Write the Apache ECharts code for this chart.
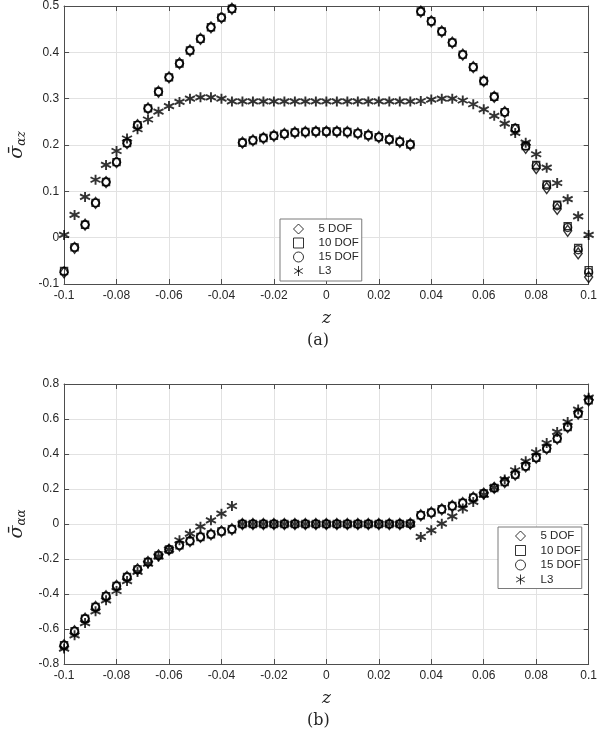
<!DOCTYPE html>
<html><head><meta charset="utf-8">
<script src="https://cdn.jsdelivr.net/npm/echarts@6/dist/echarts.min.js"></script>
<style>html,body{margin:0;padding:0;background:#fff}#c{width:600px;height:730px}</style>
</head><body><div id="c"></div>
<script>
// ---------- data ----------
const zValues = [-0.1,-0.096,-0.092,-0.088,-0.084,-0.08,-0.076,-0.072,-0.068,-0.064,-0.06,-0.056,-0.052,-0.048,-0.044,-0.04,-0.036,
  -0.032,-0.028,-0.024,-0.02,-0.016,-0.012,-0.008,-0.004,0,0.004,0.008,0.012,0.016,0.02,0.024,0.028,0.032,
  0.036,0.04,0.044,0.048,0.052,0.056,0.06,0.064,0.068,0.072,0.076,0.08,0.084,0.088,0.092,0.096,0.1];

const seriesNames = ['5 DOF','10 DOF','15 DOF','L3'];

// (a) sigma_alpha_z
const aDof5 = [-0.075,-0.022,0.028,0.075,0.120,0.163,0.204,0.243,0.279,0.315,0.346,0.376,0.404,0.429,0.454,0.475,0.494,
  0.205,0.210,0.215,0.220,0.224,0.227,0.228,0.229,0.229,0.229,0.228,0.225,0.221,0.217,0.212,0.207,0.201,
  0.488,0.467,0.445,0.421,0.395,0.368,0.338,0.304,0.271,0.234,0.194,0.150,0.107,0.062,0.015,-0.034,-0.085];
const aDof10 = [-0.072,-0.021,0.028,0.075,0.120,0.163,0.204,0.243,0.279,0.315,0.346,0.376,0.404,0.429,0.454,0.475,0.494,
  0.205,0.210,0.215,0.220,0.224,0.227,0.228,0.229,0.229,0.229,0.228,0.225,0.221,0.217,0.212,0.207,0.201,
  0.488,0.467,0.445,0.421,0.395,0.368,0.338,0.304,0.271,0.236,0.198,0.157,0.115,0.071,0.025,-0.022,-0.070];
const aDof15 = [-0.073,-0.021,0.028,0.075,0.120,0.163,0.204,0.243,0.279,0.315,0.346,0.376,0.404,0.429,0.454,0.475,0.494,
  0.205,0.210,0.215,0.220,0.224,0.227,0.228,0.229,0.229,0.229,0.228,0.225,0.221,0.217,0.212,0.207,0.201,
  0.488,0.467,0.445,0.421,0.395,0.368,0.338,0.304,0.271,0.236,0.198,0.155,0.113,0.069,0.022,-0.026,-0.075];
const aL3 = [0.006,0.049,0.088,0.125,0.157,0.187,0.214,0.234,0.255,0.272,0.284,0.293,0.300,0.303,0.303,0.300,0.294,
  0.294,0.294,0.294,0.294,0.294,0.294,0.294,0.294,0.294,0.294,0.294,0.294,0.294,0.294,0.294,0.294,0.294,
  0.295,0.298,0.300,0.300,0.296,0.288,0.277,0.263,0.246,0.226,0.205,0.180,0.151,0.118,0.083,0.046,0.006];

// (b) sigma_alpha_alpha
const bDof5 = [-0.693,-0.613,-0.541,-0.474,-0.413,-0.354,-0.303,-0.259,-0.217,-0.179,-0.146,-0.122,-0.097,-0.074,-0.059,-0.042,-0.030,
  0,0,0,0,0,0,0,0,0,0,0,0,0,0,0,0,0.002,
  0.050,0.065,0.084,0.103,0.120,0.151,0.174,0.206,0.240,0.282,0.330,0.379,0.431,0.488,0.554,0.631,0.707];
const bDof10 = [-0.693,-0.613,-0.541,-0.474,-0.413,-0.354,-0.303,-0.259,-0.217,-0.179,-0.146,-0.122,-0.097,-0.074,-0.059,-0.042,-0.030,
  0,0,0,0,0,0,0,0,0,0,0,0,0,0,0,0,0.002,
  0.050,0.065,0.084,0.103,0.120,0.151,0.174,0.206,0.240,0.282,0.330,0.379,0.431,0.488,0.554,0.631,0.707];
const bDof15 = [-0.693,-0.613,-0.541,-0.474,-0.413,-0.354,-0.303,-0.259,-0.217,-0.179,-0.146,-0.122,-0.097,-0.074,-0.059,-0.042,-0.030,
  0,0,0,0,0,0,0,0,0,0,0,0,0,0,0,0,0.002,
  0.050,0.065,0.084,0.103,0.120,0.151,0.174,0.206,0.240,0.282,0.330,0.379,0.431,0.488,0.554,0.631,0.707];
const bL3 = [-0.712,-0.636,-0.566,-0.499,-0.436,-0.383,-0.326,-0.274,-0.226,-0.185,-0.146,-0.093,-0.055,-0.015,0.021,0.059,0.103,
  0,0,0,0,0,0,0,0,0,0,0,0,0,0,0,0,0,
  -0.074,-0.036,0.002,0.044,0.088,0.126,0.168,0.208,0.255,0.307,0.358,0.410,0.463,0.526,0.583,0.654,0.722];

const xTicks = [-0.1,-0.08,-0.06,-0.04,-0.02,0,0.02,0.04,0.06,0.08,0.1];
const yTicksA = [-0.1,0,0.1,0.2,0.3,0.4,0.5];
const yTicksB = [-0.8,-0.6,-0.4,-0.2,0,0.2,0.4,0.6,0.8];

// ---------- chart ----------
const AX = '#4d4d4d', GRID = '#e2e2e2', TXT = '#262626';
const fmt = v => String(parseFloat(Number(v).toFixed(3)));
const ASTER = 'path://M0,-5L0,5M-4.33,-2.5L4.33,2.5M-4.33,2.5L4.33,-2.5';
const symbols = ['diamond','rect','circle',ASTER];
const sizes = [[8,11],7,8,10];
const widths = [1.4,1.4,1.4,1.9];

function mainX(gi){
  return {type:'value', gridIndex:gi, min:xTicks[0], max:xTicks[xTicks.length-1], interval:0.02, position:'bottom',
    axisLine:{onZero:false, lineStyle:{color:AX}}, axisTick:{inside:true,length:5,lineStyle:{color:AX}},
    axisLabel:{formatter:fmt, color:TXT, fontSize:12, fontFamily:'Liberation Sans, Arial', margin:6},
    splitLine:{show:true, lineStyle:{color:GRID}},
    name:'z', nameLocation:'middle', nameGap:26,
    nameTextStyle:{fontFamily:'DejaVu Serif, Liberation Serif', fontStyle:'italic', fontSize:17, color:TXT}};
}
function topX(gi){
  return {type:'value', gridIndex:gi, min:xTicks[0], max:xTicks[xTicks.length-1], interval:0.02, position:'top',
    axisLine:{onZero:false, lineStyle:{color:AX}}, axisTick:{inside:true,length:5,lineStyle:{color:AX}},
    axisLabel:{show:false}, splitLine:{show:false}};
}
function mainY(gi, ticks, interval, nameRich){
  return {type:'value', gridIndex:gi, min:ticks[0], max:ticks[ticks.length-1], interval:interval, position:'left',
    axisLine:{show:true, onZero:false, lineStyle:{color:AX}}, axisTick:{show:true, inside:true,length:5,lineStyle:{color:AX}},
    axisLabel:{formatter:fmt, color:TXT, fontSize:12, fontFamily:'Liberation Sans, Arial', margin:5},
    splitLine:{show:true, lineStyle:{color:GRID}},
    name:nameRich, nameLocation:'middle', nameGap:36,
    nameTextStyle:{color:TXT, rich:{
      s:{fontFamily:'DejaVu Serif, Liberation Serif', fontStyle:'italic', fontSize:19, color:TXT},
      b:{fontFamily:'DejaVu Serif, Liberation Serif', fontStyle:'italic', fontSize:12, color:TXT, padding:[8,0,0,0]}
    }}};
}
function rightY(gi, ticks, interval){
  return {type:'value', gridIndex:gi, min:ticks[0], max:ticks[ticks.length-1], interval:interval, position:'right',
    axisLine:{show:true, onZero:false, lineStyle:{color:AX}}, axisTick:{show:true, inside:true,length:5,lineStyle:{color:AX}},
    axisLabel:{show:false}, splitLine:{show:false}};
}

function mk(name, idx, xi, yi, vals){
  return {type:'scatter', name:name, xAxisIndex:xi, yAxisIndex:yi,
    symbol:symbols[idx], symbolSize:sizes[idx],
    itemStyle:{color:'rgba(0,0,0,0)', borderColor:'#000', borderWidth:widths[idx]},
    emphasis:{disabled:true}, animation:false,
    data: zValues.map((z,i)=>[z, vals[i]])};
}

const legendBase = {orient:'vertical', itemWidth:10, itemHeight:10,
  borderColor:'#7a7a7a', borderWidth:1, backgroundColor:'#fff',
  itemStyle:{borderWidth:1, color:'rgba(0,0,0,0)', borderColor:'#000'},
  textStyle:{fontSize:11.5, color:TXT, fontFamily:'Liberation Sans, Arial', padding:[0,0,0,10]},
  data:seriesNames, selectedMode:false};

const chart = echarts.init(document.getElementById('c'), null, {renderer:'canvas'});
chart.setOption({
  animation:false,
  grid:[{left:48, top:5, width:546, height:279},{left:48, top:384, width:546, height:280}],
  xAxis:[mainX(0), topX(0), mainX(1), topX(1)],
  yAxis:[mainY(0, yTicksA, 0.1, '{s|σ̄}{b|αz}'), rightY(0, yTicksA, 0.1),
         mainY(1, yTicksB, 0.2, '{s|σ̄}{b|αα}'), rightY(1, yTicksB, 0.2)],
  legend:[Object.assign({}, legendBase, {left:280, top:219, padding:[4,3,4,13], itemGap:2}),
          Object.assign({}, legendBase, {left:498, top:527, padding:[3,1,3,17], itemGap:2.5})],
  graphic:[
    {type:'text', left:307, top:333, style:{text:'(a)', font:'16px "DejaVu Serif", "Liberation Serif", serif', fill:TXT}},
    {type:'text', left:307, top:713, style:{text:'(b)', font:'16px "DejaVu Serif", "Liberation Serif", serif', fill:TXT}}
  ],
  series:[
    mk('5 DOF',0,0,0,aDof5), mk('10 DOF',1,0,0,aDof10), mk('15 DOF',2,0,0,aDof15), mk('L3',3,0,0,aL3),
    mk('5 DOF',0,2,2,bDof5), mk('10 DOF',1,2,2,bDof10), mk('15 DOF',2,2,2,bDof15), mk('L3',3,2,2,bL3)
  ]
});
</script></body></html>
